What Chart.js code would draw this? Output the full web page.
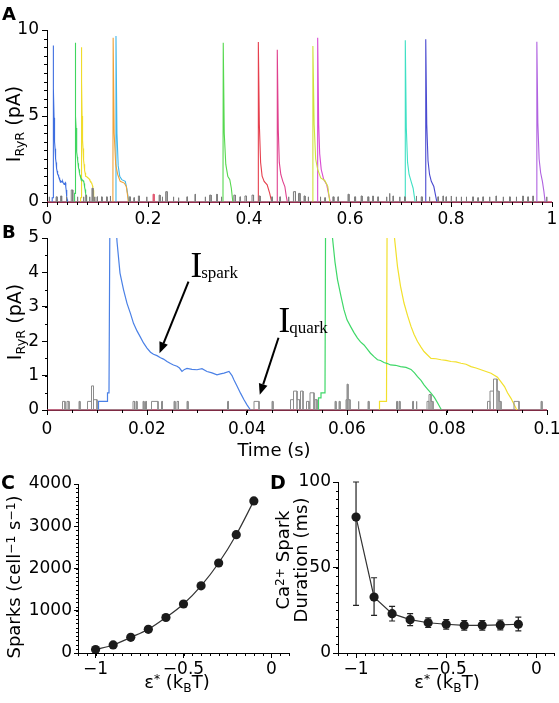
<!DOCTYPE html>
<html><head><meta charset="utf-8">
<script src="https://cdn.jsdelivr.net/npm/chart.js@4.4.1/dist/chart.umd.min.js"></script>
<style>
html,body{margin:0;padding:0;background:#fff;}
#fig{position:relative;width:559px;height:703px;overflow:hidden;background:#fff;font-family:'DejaVu Sans',sans-serif;color:#000;}
#fig canvas{position:absolute;left:0;top:0;width:559px;height:703px;}
.t{position:absolute;white-space:nowrap;line-height:1;}
.pl{font-weight:bold;font-size:18px;}
.c{transform:translate(-50%,-50%);}
.r{transform:translate(-50%,-50%) rotate(-90deg);text-align:center;}
.sub{font-size:0.68em;position:relative;top:0.32em;}
.sup{font-size:0.68em;position:relative;top:-0.45em;}
</style></head><body>
<div id="fig">
<canvas id="cA" width="559" height="703"></canvas>
<canvas id="cB" width="559" height="703"></canvas>
<canvas id="cC" width="559" height="703"></canvas>
<canvas id="cD" width="559" height="703"></canvas>
<div class="t pl" style="left:2px;top:5px">A</div>
<div class="t pl" style="left:2px;top:223px">B</div>
<div class="t pl" style="left:1px;top:473px;font-size:19px">C</div>
<div class="t pl" style="left:270px;top:473px;font-size:19px">D</div>
<div class="t r" style="left:13px;top:124px;font-size:19px">I<span class="sub">RyR</span> (pA)</div>
<div class="t r" style="left:14px;top:322px;font-size:19px">I<span class="sub">RyR</span> (pA)</div>
<div class="t c" style="left:274px;top:450px;font-size:18px">Time (s)</div>
<div class="t r" style="left:14px;top:577px;font-size:18px">Sparks (cell<span class="sup">&minus;1</span> s<span class="sup">&minus;1</span>)</div>
<div class="t r" style="left:291px;top:560px;font-size:18px;line-height:15px">Ca<span class="sup">2+</span> Spark<br>Duration (ms)</div>
<div class="t c" style="left:177px;top:682px;font-size:18px">&epsilon;<span class="sup">*</span> (k<span class="sub">B</span>T)</div>
<div class="t c" style="left:447px;top:682px;font-size:18px">&epsilon;<span class="sup">*</span> (k<span class="sub">B</span>T)</div>
</div>
<script>
const FONT = "'DejaVu Sans', sans-serif";

// ---------------- Panel A : 0-1 s trace ----------------
const aXTicks = [0, 0.2, 0.4, 0.6, 0.8, 1];
const aXTickLabels = ['0', '0.2', '0.4', '0.6', '0.8', '1'];
const aYTicks = [0, 5, 10];
const aYTickLabels = ['0', '5', '10'];

// ---------------- Panel B : 0-0.1 s trace ----------------
const bXTicks = [0, 0.02, 0.04, 0.06, 0.08, 0.1];
const bXTickLabels = ['0', '0.02', '0.04', '0.06', '0.08', '0.1'];
const bYTicks = [0, 1, 2, 3, 4, 5];
const bYTickLabels = ['0', '1', '2', '3', '4', '5'];

// spark traces (time s, current pA)
const sparkBlue = [[0.0103,0],[0.0103,0.25],[0.0121,0.25],[0.0121,0.5],[0.0124,0.5],[0.0127,9.1],[0.0133,6.6],[0.0140,4.9],[0.0146,3.98],[0.0153,3.5],[0.0160,3.1],[0.0167,2.8],[0.0173,2.52],[0.0180,2.3],[0.0186,2.14],[0.0193,1.95],[0.0200,1.8],[0.0207,1.68],[0.0213,1.62],[0.0220,1.58],[0.0227,1.52],[0.0233,1.48],[0.0240,1.41],[0.0247,1.35],[0.0253,1.31],[0.0260,1.27],[0.0265,1.22],[0.0270,1.12],[0.0275,1.18],[0.0280,1.21],[0.0290,1.18],[0.0300,1.17],[0.0310,1.2],[0.0320,1.12],[0.0330,1.08],[0.0340,1.02],[0.0347,1.05],[0.0354,1.07],[0.0364,1.12],[0.0370,1.0],[0.0374,0.87],[0.0380,0.7],[0.0387,0.49],[0.0394,0.3],[0.0400,0.15],[0.0407,0]];
const sparkGreen = [[0.0543,0],[0.0543,0.35],[0.0548,0.35],[0.0548,0.5],[0.0556,0.5],[0.0558,9.26],[0.0564,7.0],[0.0571,5.0],[0.0576,4.3],[0.0581,3.79],[0.0588,3.3],[0.0594,2.91],[0.0600,2.62],[0.0607,2.43],[0.0614,2.25],[0.0621,2.09],[0.0627,1.98],[0.0634,1.89],[0.0641,1.76],[0.0647,1.65],[0.0654,1.55],[0.0661,1.46],[0.0667,1.44],[0.0674,1.38],[0.0681,1.35],[0.0687,1.31],[0.0697,1.3],[0.0707,1.26],[0.0718,1.24],[0.0728,1.18],[0.0735,1.08],[0.0741,0.97],[0.0748,0.86],[0.0754,0.73],[0.0761,0.61],[0.0768,0.49],[0.0775,0.36],[0.0781,0.21],[0.0789,0]];
const sparkYellow = [[0.0665,0],[0.0665,0.25],[0.0679,0.25],[0.0681,9.0],[0.0688,7.0],[0.0695,5.0],[0.0701,4.17],[0.0707,3.6],[0.0714,3.11],[0.0721,2.75],[0.0728,2.43],[0.0734,2.2],[0.0741,1.99],[0.0748,1.83],[0.0754,1.7],[0.0761,1.6],[0.0768,1.5],[0.0778,1.49],[0.0788,1.46],[0.0798,1.44],[0.0808,1.41],[0.0818,1.40],[0.0828,1.36],[0.0838,1.33],[0.0848,1.26],[0.0858,1.22],[0.0868,1.17],[0.0878,1.12],[0.0888,1.07],[0.0901,0.95],[0.0908,0.82],[0.0915,0.68],[0.0921,0.5],[0.0928,0.34],[0.0938,0.05],[0.0940,0]];

// later sparks in panel A
const sparkOrangeA = [[0.1300,0],[0.1305,0.3],[0.1310,9.55],[0.1330,4.0],[0.1360,2.2],[0.1400,1.6],[0.1450,1.2],[0.1530,1.1],[0.1570,0.9],[0.1600,0.3],[0.1610,0]];
const sparkCyanA = [[0.1360,0],[0.1366,9.65],[0.1385,4.0],[0.1410,2.1],[0.1440,1.5],[0.1480,1.3],[0.1550,1.2],[0.1580,0.8],[0.1610,0.2],[0.1620,0]];
const sparkGreen2A = [[0.3480,0],[0.3485,0.4],[0.3490,9.26],[0.3510,4.0],[0.3540,2.2],[0.3580,1.5],[0.3620,1.3],[0.3650,0.8],[0.3680,0]];
const sparkRedA = [[0.4180,0],[0.4185,9.3],[0.4205,4.5],[0.4230,2.3],[0.4260,1.5],[0.4300,1.2],[0.4360,1.0],[0.4410,0.5],[0.4450,0]];
const sparkPinkA = [[0.4555,0],[0.4560,8.85],[0.4580,4.2],[0.4600,2.3],[0.4630,1.6],[0.4670,1.2],[0.4710,0.9],[0.4740,0.3],[0.4760,0]];
const sparkLimeA = [[0.5260,0],[0.5265,9.07],[0.5290,4.5],[0.5320,2.5],[0.5360,1.9],[0.5420,1.4],[0.5500,1.25],[0.5560,0.9],[0.5600,0]];
const sparkMagentaA = [[0.5355,0],[0.5360,9.55],[0.5380,4.5],[0.5400,2.8],[0.5430,1.9],[0.5480,1.3],[0.5540,1.0],[0.5580,0.4],[0.5610,0]];
const sparkTealA = [[0.7090,0],[0.7095,9.4],[0.7115,4.3],[0.7140,2.3],[0.7170,1.6],[0.7210,1.2],[0.7250,0.8],[0.7280,0.2],[0.7290,0]];
const sparkIndigoA = [[0.7495,0],[0.7500,9.46],[0.7520,4.5],[0.7545,2.4],[0.7575,1.6],[0.7610,1.2],[0.7660,0.9],[0.7700,0.3],[0.7720,0]];
const sparkPurpleA = [[0.9695,0],[0.9700,9.32],[0.9720,4.6],[0.9745,2.5],[0.9775,1.7],[0.9810,1.2],[0.9840,0.6],[0.9860,0.1],[0.9870,0]];

// quark noise (start s, end s, level pA)
const quarksA = [[0.004,0.005,0.3],[0.018,0.020,0.3],[0.027,0.029,0.35],[0.038,0.039,0.3],[0.048,0.051,0.7],[0.060,0.061,0.3],[0.072,0.073,0.3],[0.077,0.078,0.4],[0.084,0.085,0.3],[0.089,0.091,0.8],[0.094,0.095,0.3],[0.099,0.100,0.3],[0.108,0.109,0.3],[0.118,0.119,0.3],[0.125,0.126,0.35],[0.163,0.165,0.3],[0.172,0.173,0.25],[0.181,0.183,0.35],[0.197,0.198,0.3],[0.222,0.224,0.4],[0.228,0.229,0.3],[0.235,0.238,0.6],[0.250,0.251,0.3],[0.260,0.261,0.25],[0.277,0.278,0.3],[0.293,0.294,0.45],[0.313,0.314,0.3],[0.322,0.325,0.4],[0.336,0.337,0.45],[0.345,0.346,0.3],[0.370,0.373,0.4],[0.382,0.383,0.3],[0.392,0.395,0.35],[0.406,0.409,0.4],[0.420,0.422,0.35],[0.445,0.446,0.3],[0.461,0.462,0.3],[0.478,0.479,0.3],[0.488,0.492,0.6],[0.498,0.501,0.5],[0.509,0.511,0.35],[0.517,0.518,0.3],[0.541,0.542,0.3],[0.550,0.551,0.25],[0.566,0.568,0.3],[0.576,0.577,0.3],[0.596,0.598,0.45],[0.609,0.611,0.3],[0.622,0.624,0.35],[0.635,0.637,0.3],[0.645,0.646,0.35],[0.655,0.656,0.3],[0.672,0.673,0.3],[0.678,0.679,0.5],[0.685,0.686,0.35],[0.698,0.699,0.3],[0.708,0.709,0.3],[0.731,0.732,0.35],[0.741,0.743,0.3],[0.757,0.758,0.3],[0.774,0.775,0.3],[0.784,0.785,0.35],[0.790,0.791,0.3],[0.800,0.801,0.35],[0.810,0.811,0.3],[0.820,0.821,0.3],[0.830,0.831,0.3],[0.843,0.844,0.3],[0.853,0.854,0.25],[0.863,0.864,0.3],[0.876,0.877,0.3],[0.889,0.890,0.35],[0.903,0.904,0.3],[0.916,0.917,0.3],[0.929,0.930,0.3],[0.942,0.943,0.35],[0.952,0.953,0.3],[0.962,0.963,0.35],[0.989,0.990,0.3]];
const redQuarkA = [[0.210,0.212,0.45]];
const quarksB = [[0.0031,0.0036,0.25],[0.0040,0.0044,0.25],[0.0064,0.0066,0.25],[0.0081,0.0089,0.25],[0.0089,0.0093,0.7],[0.0093,0.0100,0.3],[0.0172,0.0175,0.25],[0.0178,0.0180,0.25],[0.0192,0.0194,0.25],[0.0197,0.0199,0.25],[0.0209,0.0222,0.25],[0.0229,0.0231,0.25],[0.0254,0.0256,0.25],[0.0260,0.0263,0.25],[0.0280,0.0282,0.25],[0.0361,0.0363,0.25],[0.0414,0.0424,0.25],[0.0450,0.0452,0.25],[0.0487,0.0493,0.3],[0.0493,0.0500,0.55],[0.0500,0.0505,0.3],[0.0507,0.0512,0.55],[0.0519,0.0524,0.25],[0.0526,0.0534,0.5],[0.0536,0.0540,0.3],[0.0576,0.0578,0.25],[0.0584,0.0586,0.25],[0.0598,0.0600,0.3],[0.0600,0.0602,0.75],[0.0602,0.0606,0.3],[0.0622,0.0624,0.25],[0.0642,0.0644,0.25],[0.0699,0.0701,0.25],[0.0704,0.0706,0.25],[0.0731,0.0733,0.25],[0.0738,0.0740,0.25],[0.0760,0.0764,0.25],[0.0764,0.0768,0.45],[0.0768,0.0772,0.25],[0.0881,0.0886,0.25],[0.0886,0.0893,0.55],[0.0893,0.0900,0.9],[0.0900,0.0904,0.55],[0.0904,0.0908,0.25],[0.0934,0.0944,0.25],[0.0988,0.0990,0.25]];

// annotations in panel B (data coordinates)
const annotLabels = [{main:'I', sub:'spark', t:0.0287, i:3.88}, {main:'I', sub:'quark', t:0.0463, i:2.27}];
const annotArrows = [{t0:0.0283, i0:3.73, t1:0.0225, i1:1.65}, {t0:0.0463, i0:2.1, t1:0.04255, i1:0.44}];

// ---------------- Panel C / D ----------------
const epsilon = [-1, -0.9, -0.8, -0.7, -0.6, -0.5, -0.4, -0.3, -0.2, -0.1];
const sparkRate = [80, 190, 370, 560, 840, 1160, 1590, 2130, 2800, 3600];
const sparkDuration = [79.5, 32.7, 23, 19.5, 17.7, 16.8, 16.2, 16.2, 16.4, 16.8];
const durationHigh = [100, 44, 27.3, 23, 20.5, 19.6, 19, 19, 19.3, 21];
const durationLow = [27.9, 22, 18.7, 16, 14.9, 14, 13.4, 13.4, 13.5, 12.9];
const cdXTicks = [-1, -0.5, 0];
const cdXTickLabels = ['\u22121', '\u22120.5', '0'];
const cYTicks = [0, 1000, 2000, 3000, 4000];
const cYTickLabels = ['0', '1000', '2000', '3000', '4000'];
const dYTicks = [0, 50, 100];
const dYTickLabels = ['0', '50', '100'];

// ---------------- helpers ----------------
function boxesToPoints(boxes){
  const pts = [];
  boxes.forEach(([a,b,h]) => { pts.push([a,0],[a,h],[b,h],[b,0]); });
  return pts;
}
function axis(min, max, ticks, labels, size, isX, tickLen, pad){
  return {
    type:'linear', min, max,
    afterBuildTicks: s => { s.ticks = ticks.map(v => ({value:v})); },
    afterFit: s => { if (isX) s.height = size; else s.width = size; s.paddingLeft=0; s.paddingRight=0; s.paddingTop=0; s.paddingBottom=0; },
    ticks:{autoSkip:false, maxRotation:0, minRotation:0, padding:pad, color:'#000', font:{family:FONT, size:17}, callback:(v,i)=>labels[i]},
    grid:{display:true, drawOnChartArea:false, drawTicks:true, tickLength:tickLen, color:'#000', lineWidth:1},
    border:{display:true, color:'#000', width:1}
  };
}
const minorTickPlugin = {
  id:'minorTicks',
  afterDraw(chart, args, o){
    const ctx = chart.ctx, xs = chart.scales.x, ys = chart.scales.y, ca = chart.chartArea;
    ctx.save(); ctx.strokeStyle = '#000'; ctx.lineWidth = 1; ctx.beginPath();
    if (o.xStep){
      const k0 = Math.ceil(xs.min/o.xStep - 1e-6), k1 = Math.floor(xs.max/o.xStep + 1e-6);
      for (let k=k0; k<=k1; k++){ const px = Math.round(xs.getPixelForValue(k*o.xStep)) + 0.5; ctx.moveTo(px, ca.bottom); ctx.lineTo(px, ca.bottom + o.xLen); }
    }
    if (o.yStep){
      const k0 = Math.ceil(ys.min/o.yStep - 1e-6), k1 = Math.floor(ys.max/o.yStep + 1e-6);
      for (let k=k0; k<=k1; k++){ const py = Math.round(ys.getPixelForValue(k*o.yStep)) + 0.5; ctx.moveTo(ca.left, py); ctx.lineTo(ca.left - o.yLen, py); }
    }
    ctx.stroke(); ctx.restore();
  }
};
const errorBarPlugin = {
  id:'errorBars',
  beforeDatasetsDraw(chart){
    const ctx = chart.ctx, xs = chart.scales.x, ys = chart.scales.y;
    ctx.save(); ctx.strokeStyle = '#222'; ctx.lineWidth = 1.2;
    epsilon.forEach((e,i) => {
      const px = xs.getPixelForValue(e), pt = ys.getPixelForValue(durationHigh[i]), pb = ys.getPixelForValue(durationLow[i]);
      ctx.beginPath(); ctx.moveTo(px,pt); ctx.lineTo(px,pb);
      ctx.moveTo(px-3,pt); ctx.lineTo(px+3,pt); ctx.moveTo(px-3,pb); ctx.lineTo(px+3,pb); ctx.stroke();
    });
    ctx.restore();
  }
};
const annotPlugin = {
  id:'annot',
  afterDatasetsDraw(chart){
    const ctx = chart.ctx, xs = chart.scales.x, ys = chart.scales.y;
    ctx.save(); ctx.fillStyle = '#000'; ctx.strokeStyle = '#000'; ctx.lineWidth = 2;
    annotArrows.forEach(a => {
      const x0 = xs.getPixelForValue(a.t0), y0 = ys.getPixelForValue(a.i0), x1 = xs.getPixelForValue(a.t1), y1 = ys.getPixelForValue(a.i1);
      const ang = Math.atan2(y1-y0, x1-x0), hl = 11, hw = 4.5;
      const bx = x1 - hl*Math.cos(ang), by = y1 - hl*Math.sin(ang);
      ctx.beginPath(); ctx.moveTo(x0,y0); ctx.lineTo(bx,by); ctx.stroke();
      ctx.beginPath(); ctx.moveTo(x1,y1); ctx.lineTo(bx + hw*Math.sin(ang), by - hw*Math.cos(ang)); ctx.lineTo(bx - hw*Math.sin(ang), by + hw*Math.cos(ang)); ctx.closePath(); ctx.fill();
    });
    annotLabels.forEach(l => {
      const x = xs.getPixelForValue(l.t), y = ys.getPixelForValue(l.i);
      ctx.textBaseline = 'alphabetic'; ctx.textAlign = 'left';
      ctx.font = "35px 'Liberation Serif', serif"; ctx.fillText(l.main, x, y);
      const w = ctx.measureText(l.main).width;
      ctx.font = "17px 'Liberation Serif', serif"; ctx.fillText(l.sub, x + w - 1, y + 1);
    });
    ctx.restore();
  }
};
function traceSet(data, color, width){
  return {data, showLine:true, borderColor:color, backgroundColor:color, borderWidth:width, pointRadius:0, fill:false, tension:0};
}
function makeChart(id, area, xAx, yAx, datasets, minor, extra){
  return new Chart(document.getElementById(id), {
    type:'scatter',
    data:{datasets},
    options:{
      responsive:false, maintainAspectRatio:false, animation:false, devicePixelRatio:1, events:[],
      layout:{padding:{left:0, top:area.t, right:559-area.r, bottom:0}},
      scales:{x:xAx, y:yAx},
      plugins:{legend:{display:false}, tooltip:{enabled:false}, minorTicks:minor}
    },
    plugins:[minorTickPlugin].concat(extra || [])
  });
}

// ---------------- Panel A ----------------
const areaA = {l:47, r:552, t:30, b:202};
const baseA = Object.assign(traceSet([[0,0],[1,0]], '#c43a66', 1.5), {clip:3});
makeChart('cA', areaA,
  axis(0, 1, aXTicks, aXTickLabels, 703-areaA.b, true, 5, 2),
  axis(0, 10, aYTicks, aYTickLabels, areaA.l, false, 5, 3),
  [
    traceSet(boxesToPoints(quarksA), '#7d7d7d', 1),
    traceSet(boxesToPoints(redQuarkA), '#e0506a', 1),
    traceSet(sparkBlue, '#3f6fe0', 1.1),
    traceSet(sparkGreen, '#3fd65f', 1.1),
    traceSet(sparkYellow, '#f0dc2a', 1.1),
    traceSet(sparkOrangeA, '#f0a238', 1.1),
    traceSet(sparkCyanA, '#42b6ea', 1.1),
    traceSet(sparkGreen2A, '#55d84e', 1.1),
    traceSet(sparkRedA, '#e6404e', 1.1),
    traceSet(sparkPinkA, '#e0418e', 1.1),
    traceSet(sparkLimeA, '#cfe23c', 1.1),
    traceSet(sparkMagentaA, '#d94ad2', 1.1),
    traceSet(sparkTealA, '#3fe0c4', 1.1),
    traceSet(sparkIndigoA, '#4a4ad0', 1.1),
    traceSet(sparkPurpleA, '#b062e0', 1.1),
    baseA
  ],
  {xStep:0.02, xLen:3, yStep:0.5, yLen:3}
);

// ---------------- Panel B ----------------
const areaB = {l:47, r:547, t:238, b:410};
const baseB = Object.assign(traceSet([[0,0],[0.1,0]], '#a8385a', 1.6), {clip:3});
makeChart('cB', areaB,
  axis(0, 0.1, bXTicks, bXTickLabels, 703-areaB.b, true, 5, 4),
  axis(0, 5, bYTicks, bYTickLabels, areaB.l, false, 5, 3),
  [
    traceSet(boxesToPoints(quarksB), '#8c8c8c', 1),
    traceSet(sparkBlue, '#4a80e6', 1.2),
    traceSet(sparkGreen, '#3fd868', 1.2),
    traceSet(sparkYellow, '#f2e02c', 1.2),
    baseB
  ],
  {xStep:0.005, xLen:3, yStep:0.5, yLen:2},
  [annotPlugin]
);

// ---------------- Panel C ----------------
const areaC = {l:78, r:289, t:484, b:653};
makeChart('cC', areaC,
  axis(-1.1, 0.1, cdXTicks, cdXTickLabels, 703-areaC.b, true, 5, 1),
  axis(0, 4000, cYTicks, cYTickLabels, areaC.l, false, 4, 2),
  [Object.assign(traceSet(epsilon.map((e,i)=>[e, sparkRate[i]]), '#333', 1.2),
     {tension:0.4, cubicInterpolationMode:'monotone', pointRadius:4.6, pointBackgroundColor:'#1b1b1b', pointBorderColor:'#1b1b1b', pointBorderWidth:0})],
  {xStep:0.05, xLen:3, yStep:100, yLen:2}
);

// ---------------- Panel D ----------------
const areaD = {l:338, r:556, t:482, b:653};
makeChart('cD', areaD,
  axis(-1.1, 0.1, cdXTicks, cdXTickLabels, 703-areaD.b, true, 5, 1),
  axis(0, 100, dYTicks, dYTickLabels, areaD.l, false, 5, 2),
  [Object.assign(traceSet(epsilon.map((e,i)=>[e, sparkDuration[i]]), '#333', 1.2),
     {pointRadius:4.6, pointBackgroundColor:'#1b1b1b', pointBorderColor:'#1b1b1b', pointBorderWidth:0})],
  {xStep:0.05, xLen:3, yStep:5, yLen:2},
  [errorBarPlugin]
);
</script>
</body></html>
